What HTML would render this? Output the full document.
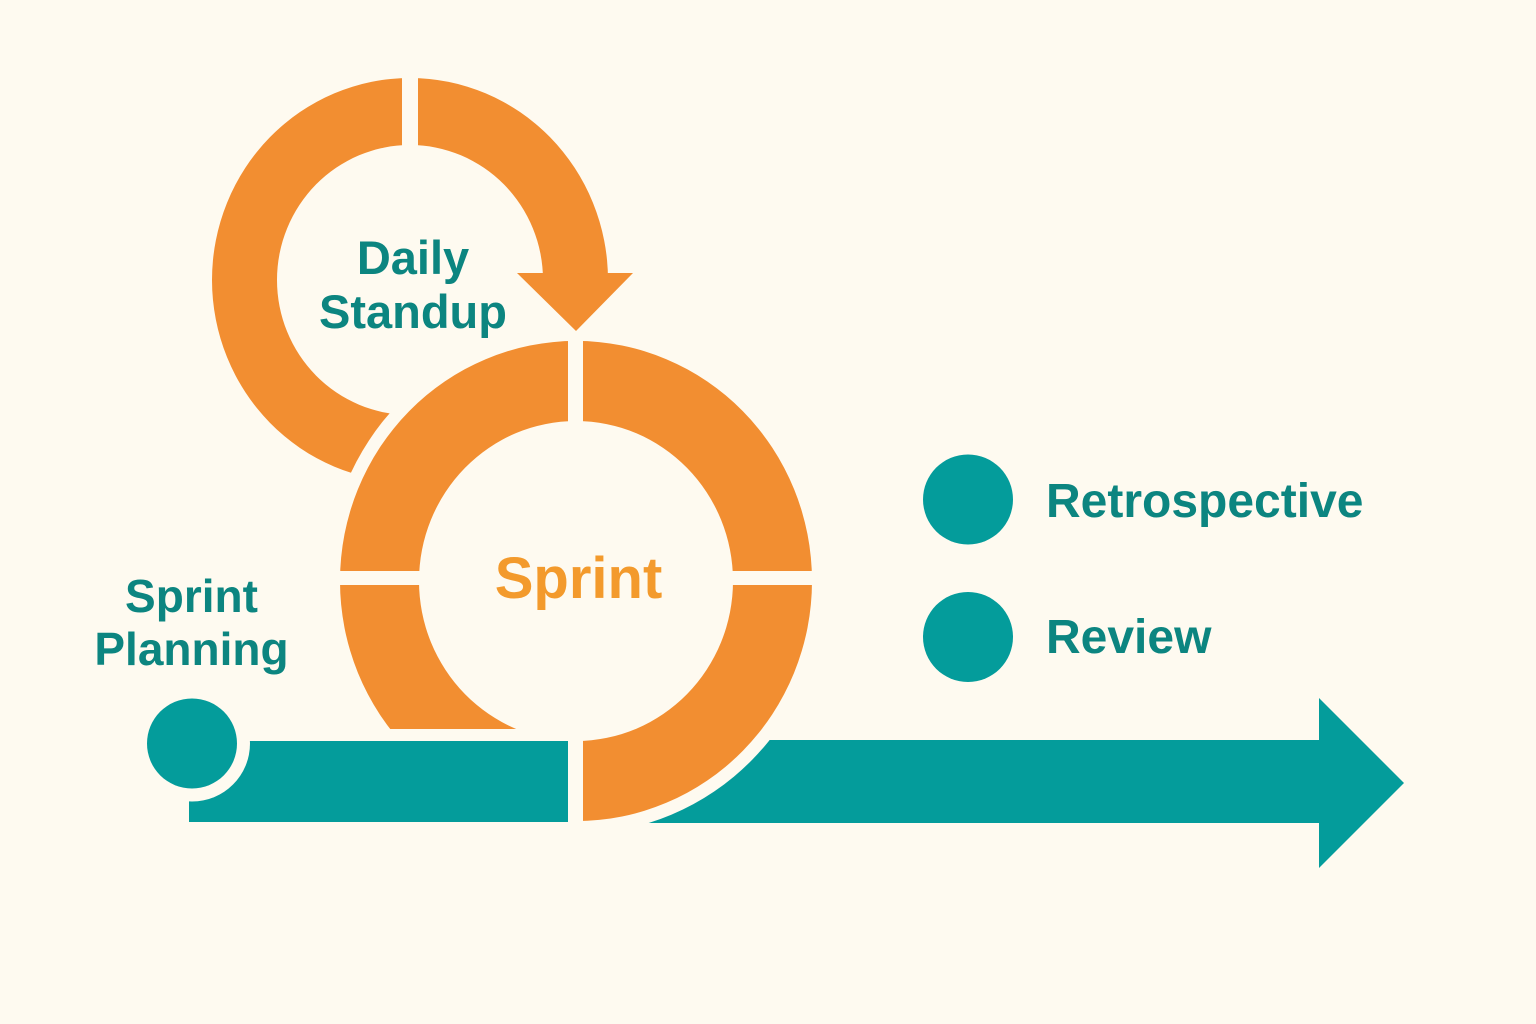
<!DOCTYPE html>
<html>
<head>
<meta charset="utf-8">
<style>
  html, body { margin: 0; padding: 0; background: #FEFAF0; }
  svg { display: block; }
  .t { font-family: "Liberation Sans", "DejaVu Sans", sans-serif; font-weight: bold; }
</style>
</head>
<body>
<svg width="1536" height="1024" viewBox="0 0 1536 1024" xmlns="http://www.w3.org/2000/svg">
  <defs>
    <mask id="mTop" maskUnits="userSpaceOnUse" x="0" y="0" width="1536" height="1024">
      <rect x="0" y="0" width="1536" height="1024" fill="#fff"/>
      <rect x="402" y="40" width="16" height="140" fill="#000"/>
      <rect x="402" y="273" width="400" height="400" fill="#000"/>
      <ellipse cx="576" cy="581" rx="249" ry="253" fill="#000"/>
    </mask>
    <mask id="mSprint" maskUnits="userSpaceOnUse" x="0" y="0" width="1536" height="1024">
      <rect x="0" y="0" width="1536" height="1024" fill="#fff"/>
      <rect x="568" y="300" width="15" height="600" fill="#000"/>
      <rect x="300" y="571" width="560" height="14" fill="#000"/>
      <rect x="0" y="729" width="568" height="300" fill="#000"/>
    </mask>
    <mask id="mLeftBar" maskUnits="userSpaceOnUse" x="0" y="0" width="1536" height="1024">
      <rect x="0" y="0" width="1536" height="1024" fill="#fff"/>
      <circle cx="192" cy="743.5" r="58" fill="#000"/>
    </mask>
    <mask id="mRightBar" maskUnits="userSpaceOnUse" x="0" y="0" width="1536" height="1024">
      <rect x="0" y="0" width="1536" height="1024" fill="#fff"/>
      <ellipse cx="576" cy="581" rx="249" ry="253" fill="#000"/>
    </mask>
  </defs>

  <rect x="0" y="0" width="1536" height="1024" fill="#FEFAF0"/>

  <!-- Daily standup ring -->
  <path mask="url(#mTop)" fill="#F28E31" fill-rule="evenodd"
        d="M212,280 a198,202 0 1,0 396,0 a198,202 0 1,0 -396,0 Z M277,280 a133,135 0 1,0 266,0 a133,135 0 1,0 -266,0 Z"/>
  <polygon points="517,273 633,273 576,331" fill="#F28E31"/>

  <!-- Sprint ring -->
  <path mask="url(#mSprint)" fill="#F28E31" fill-rule="evenodd"
        d="M340,581 a236,240 0 1,0 472,0 a236,240 0 1,0 -472,0 Z M419,581 a157,160 0 1,0 314,0 a157,160 0 1,0 -314,0 Z"/>

  <!-- Teal bars -->
  <rect mask="url(#mLeftBar)" x="189" y="741" width="379" height="81" fill="#049C9B"/>
  <circle cx="192" cy="743.5" r="45" fill="#049C9B"/>
  <rect mask="url(#mRightBar)" x="600" y="740" width="721" height="83" fill="#049C9B"/>
  <polygon points="1319,698 1404,783 1319,868" fill="#049C9B"/>

  <!-- Right circles -->
  <circle cx="968" cy="499.5" r="45" fill="#049C9B"/>
  <circle cx="968" cy="637" r="45" fill="#049C9B"/>

  <!-- Labels -->
  <text class="t" x="413" y="274" font-size="47" fill="#0C8580" text-anchor="middle">Daily</text>
  <text class="t" x="413" y="328" font-size="47" fill="#0C8580" text-anchor="middle">Standup</text>
  <text class="t" x="578.5" y="598" font-size="58" fill="#F39A2C" text-anchor="middle">Sprint</text>
  <text class="t" x="191.5" y="612" font-size="46" fill="#0C8580" text-anchor="middle">Sprint</text>
  <text class="t" x="191.5" y="665" font-size="46" fill="#0C8580" text-anchor="middle">Planning</text>
  <text class="t" x="1046" y="517" font-size="48" fill="#0C8580">Retrospective</text>
  <text class="t" x="1046" y="653" font-size="48" fill="#0C8580">Review</text>
</svg>
</body>
</html>
